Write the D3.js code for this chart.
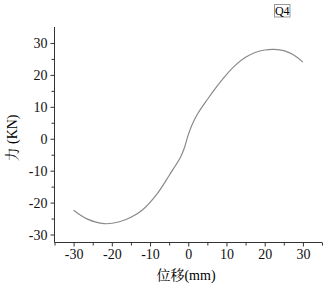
<!doctype html>
<html>
  <head>
    <script src="https://cdnjs.cloudflare.com/ajax/libs/d3/7.8.5/d3.min.js"></script>
    <style>
      body { margin: 0; background: #fff; }
      svg text { font-family: "Liberation Serif", "Times New Roman", "Noto Serif CJK SC", serif !important; }
    </style>
  </head>
  <body>
    <svg width="330" height="289"></svg>
    <script>
        // displacement (mm) and force (KN)
        var disp  = [-30, -26.5, -22, -18, -15, -12, -8, -5, -2, -1, 0, 1, 2.5, 5, 7.5, 10, 12.5, 15, 17.5, 20, 22.5, 25, 27.5, 30];
        var force = [-22.4, -25.1, -26.6, -26, -24.6, -22.3, -17, -11.5, -5.7, -2.8, 1.2, 4.4, 7.9, 12.3, 16.4, 20.1, 23.2, 25.5, 27, 27.8, 28, 27.6, 26.3, 24];
        var xTicks = [-30, -20, -10, 0, 10, 20, 30];
        var yTicks = [-30, -20, -10, 0, 10, 20, 30];
        var xLabel = "位移(mm)";
        var yLabel = "力 (KN)";
        var tag = "Q4";

        var svg = d3.select("svg");
        var serif = "'Liberation Serif', 'Times New Roman', serif";

        var x = d3.scaleLinear().domain([-35, 35]).range([54.5, 322]);
        var y = d3.scaleLinear().domain([-32.5, 35]).range([242.5, 27]);

        var xAxis = d3.axisBottom(x).tickValues(d3.range(-35, 36, 5))
            .tickSize(4).tickPadding(3)
            .tickFormat(d => xTicks.indexOf(d) >= 0 ? d : "");
        var yAxis = d3.axisLeft(y).tickValues(d3.range(-30, 35, 5))
            .tickSize(4).tickPadding(3)
            .tickFormat(d => yTicks.indexOf(d) >= 0 ? d : "");

        var gx = svg.append("g").attr("transform", "translate(0," + y.range()[0] + ")").call(xAxis);
        var gy = svg.append("g").attr("transform", "translate(" + x.range()[0] + ",0)").call(yAxis);

        [gx, gy].forEach(g => {
            g.attr("font-family", serif).attr("font-size", 14);
            g.selectAll(".tick line").attr("stroke", "#333");
            g.selectAll("text").attr("fill", "#111");
        });
        // minor ticks (no label) are shorter
        gx.selectAll(".tick").filter(d => xTicks.indexOf(d) < 0).select("line").attr("y2", 3);
        gy.selectAll(".tick").filter(d => yTicks.indexOf(d) < 0).select("line").attr("x2", -3);

        // plain axis lines, no end caps
        gx.select(".domain").attr("stroke", "#333").attr("d", "M" + x.range()[0] + ",0H" + x.range()[1]);
        gy.select(".domain").attr("stroke", "#333").attr("d", "M0," + y.range()[0] + "V" + y.range()[1]);

        var line = d3.line()
            .x((d, i) => x(disp[i]))
            .y(d => y(d))
            .curve(d3.curveCatmullRom);

        svg.append("path")
            .attr("d", line(force))
            .attr("fill", "none")
            .attr("stroke", "#8a8a8a")
            .attr("stroke-width", 1.2);

        svg.append("text")
            .attr("x", 186).attr("y", 280)
            .attr("text-anchor", "middle")
            .attr("font-family", serif).attr("font-size", 14)
            .text(xLabel);

        svg.append("text")
            .attr("transform", "translate(17,138) rotate(-90)")
            .attr("text-anchor", "middle")
            .attr("font-family", serif).attr("font-size", 14)
            .text(yLabel);

        svg.append("rect")
            .attr("x", 274.5).attr("y", 4.5).attr("width", 15.5).attr("height", 12.5)
            .attr("fill", "#fff").attr("stroke", "#999");
        svg.append("text")
            .attr("x", 282.3).attr("y", 15)
            .attr("text-anchor", "middle")
            .attr("font-family", serif).attr("font-size", 12)
            .text(tag);
    </script>
  </body>
</html>
